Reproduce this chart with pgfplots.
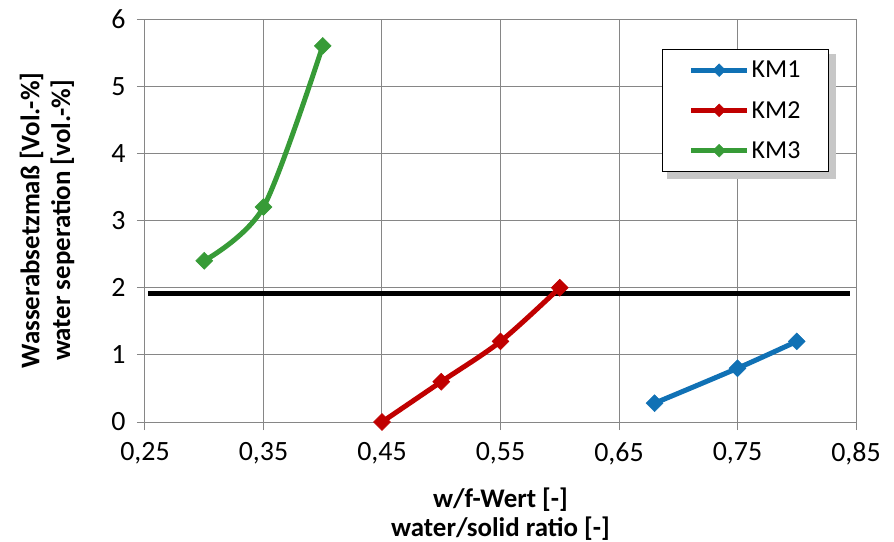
\documentclass[border=0pt]{standalone}
\usepackage{fontspec}
\setmainfont{Carlito}
\usepackage{pgfplots}
\pgfplotsset{compat=1.18}
\definecolor{kmblue}{RGB}{16,113,181}
\definecolor{kmred}{RGB}{192,0,0}
\definecolor{kmgreen}{RGB}{55,155,55}
\definecolor{gridgray}{RGB}{134,134,134}
\begin{document}
\begin{tikzpicture}
\begin{axis}[
  scale only axis, width=711bp, height=403bp,
  xmin=0.25, xmax=0.85, ymin=0, ymax=6,
  xtick={0.25,0.35,0.45,0.55,0.65,0.75,0.85},
  ytick={0,1,2,3,4,5,6},
  xtick pos=left, ytick pos=left,
  grid=major, major grid style={gridgray, line width=1bp},
  axis line style={gridgray, line width=1bp},
  tick style={gridgray, line width=1bp},
  tick align=outside, major tick length=8bp,
  /pgf/number format/assume math mode=true,
  xticklabel style={/pgf/number format/.cd, fixed, fixed zerofill, precision=2, use comma, /tikz/.cd, yshift=-9bp},
  yticklabel style={xshift=-8bp},
  ticklabel style={font=\fontsize{28}{32}\selectfont},
  xlabel={w/f-Wert [-]\\water/solid ratio [-]},
  xlabel style={font=\bfseries\fontsize{27}{29}\selectfont, align=center, at={([yshift=-92bp]rel axis cs:0.5,0)}, anchor=center},
  ylabel={Wasserabsetzmaß [Vol.-\%]\\water seperation [vol.-\%]},
  ylabel style={font=\bfseries\fontsize{27}{31}\selectfont, align=center, at={([xshift=-98bp]rel axis cs:0,0.5)}, anchor=center},
  legend cell align=left,
  legend style={at={(rel axis cs:0.727,0.926)}, anchor=north west,
    draw=black, line width=1.5bp, fill=white,
    font=\fontsize{26}{30}\selectfont,
    inner xsep=26bp, inner ysep=9.5bp, row sep=18bp},
  legend image code/.code={\draw[mark repeat=2,mark phase=2, mark size=4.5bp] plot coordinates {(0bp,0bp)(28bp,0bp)(56bp,0bp)};},
  every axis plot/.append style={line width=5bp, mark=square*, mark size=6bp},
]
\addplot[black, line width=5bp, mark=none, forget plot] coordinates {(0.2525,1.92) (0.845,1.92)};
\addplot[kmblue, smooth, mark options={fill=kmblue, draw=kmblue, rotate=45, solid, line width=0.5bp}] coordinates {(0.68,0.28) (0.75,0.8) (0.80,1.2)};
\addlegendentry{KM1}
\addplot[kmred, smooth, mark options={fill=kmred, draw=kmred, rotate=45, solid, line width=0.5bp}] coordinates {(0.45,0) (0.50,0.6) (0.55,1.2) (0.60,2.0)};
\addlegendentry{KM2}
\addplot[kmgreen, smooth, mark options={fill=kmgreen, draw=kmgreen, rotate=45, solid, line width=0.5bp}] coordinates {(0.30,2.4) (0.35,3.2) (0.40,5.6)};
\addlegendentry{KM3}
\fill[black!22] ([shift={(5bp,-5bp)}]rel axis cs:0.727,0.926) rectangle ([shift={(5bp,-5bp)}]rel axis cs:0.965,0.6154);
\end{axis}
\pgfresetboundingbox
\path[use as bounding box] ([shift={(-145bp,-120bp)}]current axis.south west) rectangle ([shift={(38bp,19bp)}]current axis.north east);
\end{tikzpicture}
\end{document}
